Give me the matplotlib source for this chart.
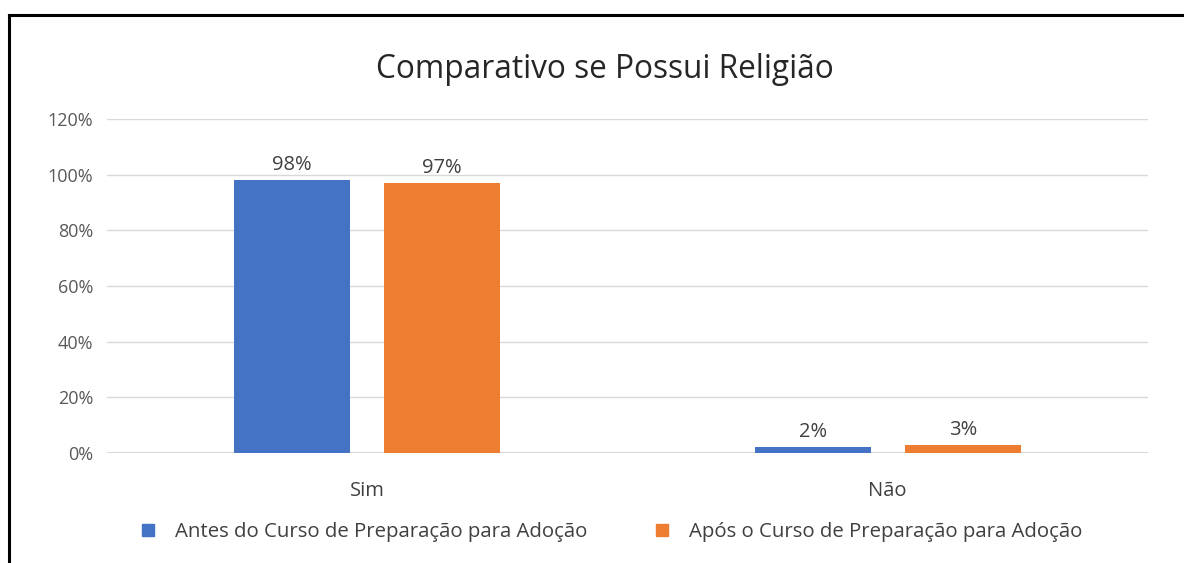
import matplotlib
matplotlib.use("Agg")
import matplotlib.pyplot as plt
import numpy as np
from matplotlib.lines import Line2D

plt.rcParams['font.family'] = ['Open Sans', 'DejaVu Sans']

categories = ["Sim", "Não"]
series_names = ["Antes do Curso de Preparação para Adoção", "Após o Curso de Preparação para Adoção"]
antes = [0.98, 0.02]
apos = [0.97, 0.03]
yticks = [0, 0.2, 0.4, 0.6, 0.8, 1.0, 1.2]
colors = ["#4472C4", "#ED7D31"]
title = "Comparativo se Possui Religião"

W, H = 1184, 563
fig = plt.figure(figsize=(W/100, H/100), dpi=100)
ax = fig.add_axes([107/W, 1-453/H, (1148-107)/W, (453-119)/H])

x = np.arange(len(categories))
bw = 0.223
off = 0.144
for vals, c, o in [(antes, colors[0], -off), (apos, colors[1], off)]:
    bars = ax.bar(x + o, vals, bw, color=c, zorder=3)
    for b, v in zip(bars, vals):
        ax.text(b.get_x() + b.get_width()/2, v + 0.018, f"{round(v*100)}%",
                ha='center', va='bottom', fontsize=14.5, color='#404040')

ax.set_xlim(-0.5, 1.5)
ax.set_ylim(0, 1.2)
ax.set_yticks(yticks)
ax.set_yticklabels([f"{round(t*100)}%" for t in yticks])
ax.set_xticks(x)
ax.set_xticklabels(categories)
ax.grid(axis='y', color='#D9D9D9', linewidth=1, zorder=0)
ax.axhline(0, color='#D0D0D0', linewidth=1.2, zorder=1)
for s in ax.spines.values():
    s.set_visible(False)
ax.tick_params(axis='y', length=0, colors='#595959', labelsize=13, pad=10)
ax.tick_params(axis='x', length=0, colors='#404040', labelsize=14.5, pad=20)

fig.text(605/W, 1-69/H, title, ha='center', va='center', fontsize=22.8, color='#262626')

handles = [Line2D([0], [0], marker='s', linestyle='none', markersize=8,
                  markerfacecolor=c, markeredgecolor=c) for c in colors]
leg = fig.legend(handles, series_names, loc='center', bbox_to_anchor=(605/W, 1-532/H),
                 ncol=2, frameon=False, fontsize=14.7, handletextpad=0.3,
                 columnspacing=2.7, labelcolor='#404040')

# border (left and top)
fig.add_artist(Line2D([9/W, 9/W], [0, 1-15/H], color='black', linewidth=2.2))
fig.add_artist(Line2D([9/W, 1], [1-15/H, 1-15/H], color='black', linewidth=2.2))

fig.savefig("out.png", dpi=100)
